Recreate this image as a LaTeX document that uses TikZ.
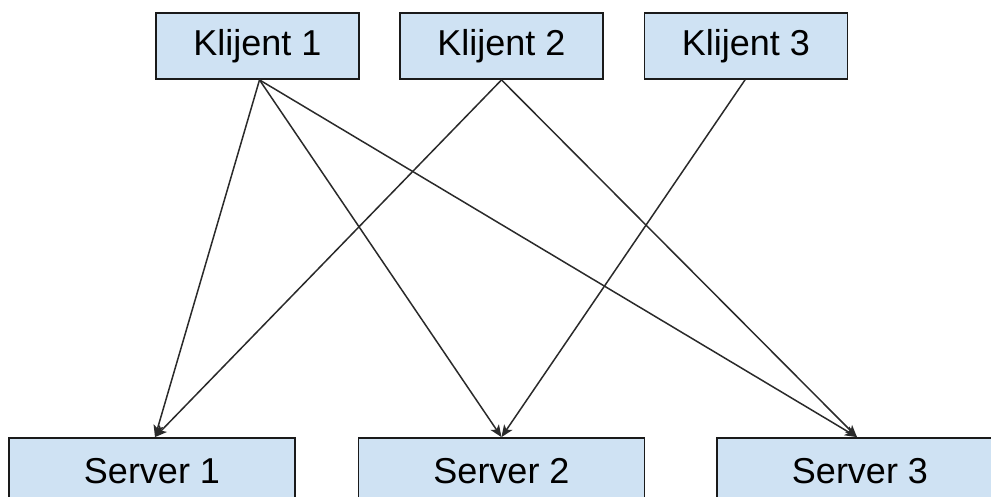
\documentclass[tikz,border=0pt]{standalone}
\usepackage{fontspec}
\setmainfont{Liberation Sans}
\usetikzlibrary{arrows.meta}
\definecolor{boxfill}{HTML}{CFE2F3}
\definecolor{boxline}{HTML}{1A1A1A}
\definecolor{linkline}{HTML}{2A2A2A}
\begin{document}
\begin{tikzpicture}[x=1pt,y=-1pt,
  box/.style={draw=boxline, fill=boxfill, line width=1.8pt, inner sep=0pt,
    minimum height=66pt, font=\fontsize{36}{40}\selectfont},
  client/.style={box, minimum width=203pt},
  server/.style={box, minimum width=286pt},
  link/.style={draw=linkline, line width=1.5pt,
    -{Stealth[length=12pt,width=10pt,inset=3pt]}}]
\useasboundingbox (0,0) rectangle (991,496);
\clip (0,0) rectangle (991,496);

% clients
\node[client] (k1) at (257.5,46) {Klijent 1};
\node[client] (k2) at (501.5,46) {Klijent 2};
\node[client] (k3) at (746,46) {Klijent 3};

% servers
\node[server] (s1) at (152,471) {Server 1};
\node[server] (s2) at (501.5,471) {Server 2};
\node[server] (s3) at (860,471) {Server 3};

% connections
\draw[link] ([xshift=2pt]k1.south) -- ([xshift=3pt]s1.north);
\draw[link] ([xshift=2pt]k1.south) -- (s2.north);
\draw[link] ([xshift=2pt]k1.south) -- ([xshift=-3pt]s3.north);
\draw[link] (k2.south) -- ([xshift=3pt]s1.north);
\draw[link] (k2.south) -- ([xshift=-3pt]s3.north);
\draw[link] ([xshift=-1pt]k3.south) -- (s2.north);
\end{tikzpicture}
\end{document}
